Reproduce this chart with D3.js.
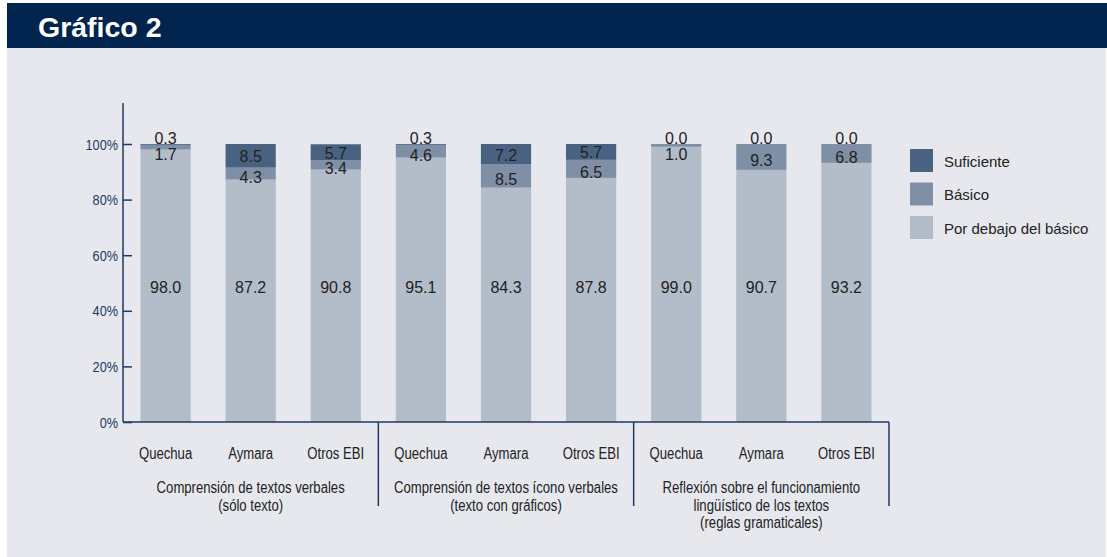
<!DOCTYPE html>
<html>
<head>
<meta charset="utf-8">
<script src="https://cdn.jsdelivr.net/npm/d3@7"></script>
<style>
    body { margin: 0; background: #fff; }
    svg { display: block; }
</style>
</head>
<body>
<svg width="1107" height="557"></svg>
<script>
// data
const groups = [
    ['Comprensión de textos verbales', '(sólo texto)'],
    ['Comprensión de textos ícono verbales', '(texto con gráficos)'],
    ['Reflexión sobre el funcionamiento', 'lingüístico de los textos', '(reglas gramaticales)']
]
const languages = ['Quechua', 'Aymara', 'Otros EBI']
const porDebajo = [98.0, 87.2, 90.8, 95.1, 84.3, 87.8, 99.0, 90.7, 93.2]
const basico = [1.7, 4.3, 3.4, 4.6, 8.5, 6.5, 1.0, 9.3, 6.8]
const suficiente = [0.3, 8.5, 5.7, 0.3, 7.2, 5.7, 0.0, 0.0, 0.0]
const yTicks = [0, 20, 40, 60, 80, 100]
const seriesNames = ['Suficiente', 'Básico', 'Por debajo del básico']
const colors = { 'Suficiente': '#4a6281', 'Básico': '#7f8fa5', 'Por debajo del básico': '#b3bdca' }

const svg = d3.select('svg')
const sans = '"Liberation Sans", Arial, sans-serif'
const navy = '#1e3a63'

// condensed look: arial metrics squeezed horizontally
function narrowText(parent, cx, cy, t, size, color, anchor = 'middle') {
    return parent.append('text')
        .attr('transform', `translate(${cx},${cy}) scale(0.82,1)`)
        .attr('text-anchor', anchor)
        .style('font-family', sans).style('font-size', size + 'px')
        .attr('fill', color).text(t)
}

// background panel and header band
svg.append('rect').attr('x', 7).attr('y', 48).attr('width', 1099).attr('height', 509).attr('fill', '#e6e8ee')
svg.append('rect').attr('x', 7).attr('y', 3).attr('width', 1100).attr('height', 45).attr('fill', '#00244d')
svg.append('text').attr('x', 38).attr('y', 37)
    .style('font-family', sans).style('font-weight', 'bold').style('font-size', '28.5px')
    .attr('fill', '#fff').text('Gráfico 2')

const cats = d3.range(porDebajo.length)
const x = d3.scaleBand().domain(cats).range([123, 889]).paddingInner(0.41).paddingOuter(0.205)
const y = d3.scaleLinear().domain([0, 100]).range([422, 144])

const rows = cats.map(i => ({ i, 'Por debajo del básico': porDebajo[i], 'Básico': basico[i], 'Suficiente': suficiente[i] }))
const stack = d3.stack().keys(['Por debajo del básico', 'Básico', 'Suficiente'])(rows)

const g = svg.append('g')
g.selectAll('g.layer').data(stack).join('g')
    .attr('fill', d => colors[d.key])
    .selectAll('rect').data(d => d).join('rect')
    .attr('x', d => x(d.data.i))
    .attr('width', x.bandwidth())
    .attr('y', d => y(d[1]))
    .attr('height', d => Math.max(0, y(d[0]) - y(d[1])))

// value labels
const lab = (xx, yy, t) => svg.append('text').attr('x', xx).attr('y', yy)
    .attr('text-anchor', 'middle').attr('dominant-baseline', 'central')
    .style('font-family', sans).style('font-size', '16px').attr('fill', '#222').text(t)

stack.forEach(layer => {
    layer.forEach(d => {
        const cx = x(d.data.i) + x.bandwidth() / 2
        const v = d.data[layer.key]
        const mid = (y(d[0]) + y(d[1])) / 2
        let yy
        if (layer.key === 'Por debajo del básico') yy = y(48.5)
        else if (layer.key === 'Básico') yy = Math.max(mid + 4, y(100) + 10)
        else yy = v < 2 ? y(100) - 6 : mid + 1
        lab(cx, yy, v.toFixed(1))
    })
})

// y axis
const yAxis = d3.axisLeft(y).tickValues(yTicks).tickSize(-9).tickFormat(d => d + '%')
const ya = svg.append('g').attr('transform', 'translate(123,0)').call(yAxis)
ya.select('.domain').remove()
ya.selectAll('line').attr('stroke', navy).attr('stroke-width', 1.5)
ya.selectAll('text').remove()
yTicks.forEach(t => narrowText(svg, 118, y(t) + 5.5, t + '%', 15.5, navy, 'end'))
svg.append('line').attr('x1', 123).attr('x2', 123).attr('y1', 103).attr('y2', 422)
    .attr('stroke', navy).attr('stroke-width', 1.5)

// x axis baseline and group separators
svg.append('line').attr('x1', 123).attr('x2', 889).attr('y1', 422).attr('y2', 422)
    .attr('stroke', navy).attr('stroke-width', 1.5)
const step = x.step()
const groupX = d3.scaleLinear().domain([0, 3]).range([123, 123 + 9 * step])
;[1, 2, 3].forEach(k => {
    svg.append('line').attr('x1', groupX(k)).attr('x2', groupX(k)).attr('y1', 422).attr('y2', 506)
        .attr('stroke', navy).attr('stroke-width', 1.5)
})

// category labels
cats.forEach(i => {
    narrowText(svg, x(i) + x.bandwidth() / 2, 459, languages[i % 3], 16, '#222')
})
groups.forEach((lines, k) => {
    const cx = (groupX(k) + groupX(k + 1)) / 2
    lines.forEach((t, j) => {
        narrowText(svg, cx, 493 + j * 17.5, t, 16, '#222')
    })
})

// legend
const leg = svg.append('g').attr('transform', 'translate(910,149)')
seriesNames.forEach((n, k) => {
    leg.append('rect').attr('x', 0).attr('y', k * 33.5).attr('width', 23).attr('height', 23).attr('fill', colors[n])
    leg.append('text').attr('x', 34).attr('y', k * 33.5 + 12).attr('dominant-baseline', 'central')
        .style('font-family', sans).style('font-size', '15px').attr('fill', '#222').text(n)
})
</script>
</body>
</html>
